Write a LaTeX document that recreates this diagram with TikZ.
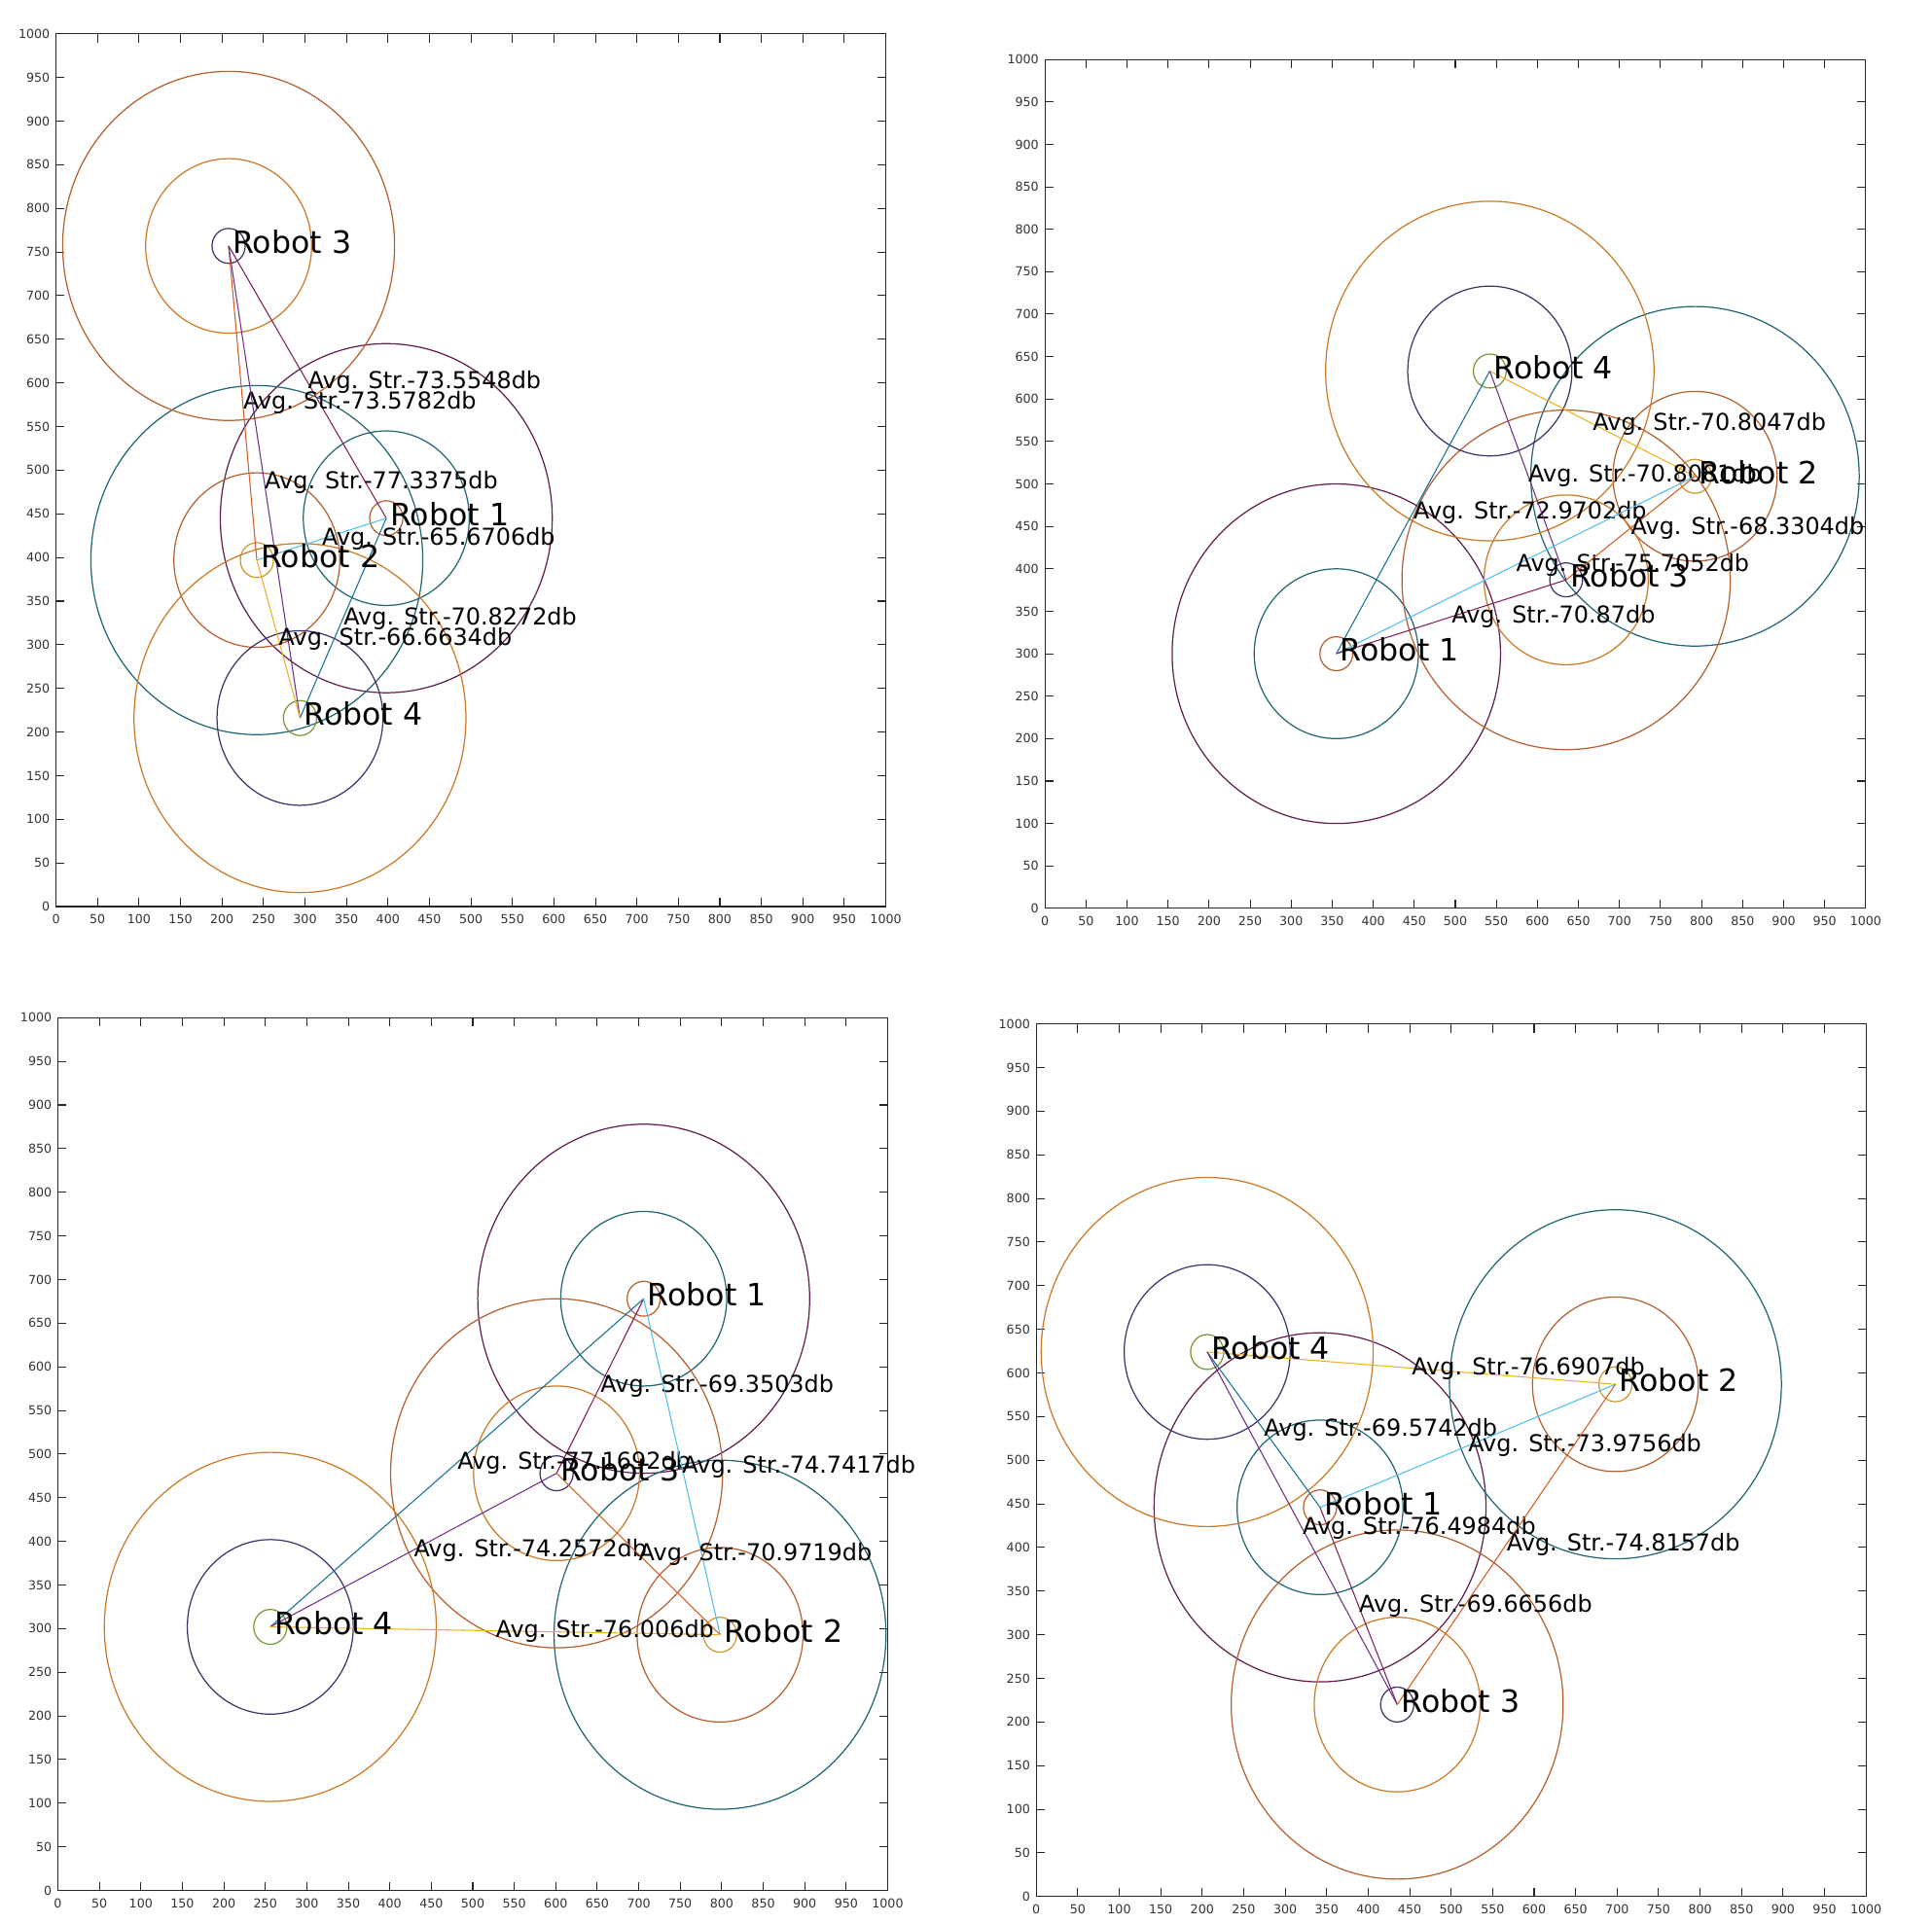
\documentclass[tikz,border=0pt]{standalone}
\usepackage{fontspec}
\setmainfont{DejaVu Sans}

\definecolor{cirBrown}{RGB}{182,96,48}
\definecolor{cirAmber}{RGB}{204,122,38}
\definecolor{cirGold}{RGB}{206,152,44}
\definecolor{cirTeal}{RGB}{34,102,118}
\definecolor{cirPlum}{RGB}{98,30,80}
\definecolor{cirNavy}{RGB}{66,50,106}
\definecolor{cirOlive}{RGB}{120,152,56}
\definecolor{lnSky}{RGB}{77,190,238}
\definecolor{lnWine}{RGB}{128,30,92}
\definecolor{lnTeal}{RGB}{22,112,150}
\definecolor{lnOrange}{RGB}{214,92,32}
\definecolor{lnGold}{RGB}{236,176,34}
\definecolor{lnViolet}{RGB}{112,46,132}

% axes box with ticks every 50
\newcommand{\plotframe}{%
  \draw[frame] (0,0) rectangle (1000,1000);
  \foreach \v in {0,50,...,1000}{
    \draw[frame] (\v,0) -- (\v,10) (\v,1000) -- (\v,990);
    \draw[frame] (0,\v) -- (10,\v) (1000,\v) -- (990,\v);
    \node[tick, below=2.2pt] at (\v,0) {\v};
    \node[tick, left=1.6pt] at (0,\v) {\v};
  }
}
% the three rings round one robot
\newcommand{\rings}[4]{%
  \draw[ring, #2] (#1) circle[radius=20];
  \draw[ring, #3] (#1) circle[radius=100];
  \draw[ring, #4] (#1) circle[radius=200];
}

\begin{document}
\begin{tikzpicture}[
    frame/.style={line width=0.3pt, black!85},
    tick/.style={font=\fontsize{3.6}{4}\selectfont, inner sep=0pt, text=black!80},
    ring/.style={line width=0.35pt},
    link/.style={line width=0.3pt},
    robotname/.style={anchor=west, inner sep=1pt, yshift=1.2pt, text=black, font=\fontsize{9}{10}\selectfont},
    strength/.style={anchor=west, inner sep=0pt, text=black, font=\fontsize{6.8}{8}\selectfont}
]
    \useasboundingbox (0,0) rectangle (19.86,19.76);

    % top left
    \begin{scope}[shift={(0.576,10.44)}, x=0.008525cm, y=0.008978cm]
        \plotframe
        \coordinate (A1) at (398,445);
        \coordinate (A2) at (242,397);
        \coordinate (A3) at (208,757);
        \coordinate (A4) at (294,216);
        \rings{A1}{cirBrown}{cirTeal}{cirPlum}
        \rings{A2}{cirGold}{cirBrown}{cirTeal}
        \rings{A3}{cirNavy}{cirAmber}{cirBrown}
        \rings{A4}{cirOlive}{cirNavy}{cirAmber}
        \draw[link, lnWine] (A3) -- (A1) node[strength, midway] {Avg. Str.-73.5548db};
        \draw[link, lnOrange] (A3) -- (A2) node[strength, midway] {Avg. Str.-73.5782db};
        \draw[link, lnViolet] (A3) -- (A4) node[strength, midway] {Avg. Str.-77.3375db};
        \draw[link, lnSky] (A1) -- (A2) node[strength, midway] {Avg. Str.-65.6706db};
        \draw[link, lnTeal] (A1) -- (A4) node[strength, midway] {Avg. Str.-70.8272db};
        \draw[link, lnGold] (A2) -- (A4) node[strength, midway] {Avg. Str.-66.6634db};
        \node[robotname] (A1t) at (A1) {Robot 1};
        \node[robotname] (A2t) at (A2) {Robot 2};
        \node[robotname] (A3t) at (A3) {Robot 3};
        \node[robotname] (A4t) at (A4) {Robot 4};
    \end{scope}

    % top right
    \begin{scope}[shift={(10.741,10.421)}, x=0.008442cm, y=0.008725cm]
        \plotframe
        \coordinate (B1) at (355,300);
        \coordinate (B2) at (792,509);
        \coordinate (B3) at (635,387);
        \coordinate (B4) at (542,633);
        \rings{B1}{cirBrown}{cirTeal}{cirPlum}
        \rings{B2}{cirGold}{cirBrown}{cirTeal}
        \rings{B3}{cirNavy}{cirAmber}{cirBrown}
        \rings{B4}{cirOlive}{cirNavy}{cirAmber}
        \draw[link, lnTeal] (B4) -- (B1) node[strength, midway] {Avg. Str.-72.9702db};
        \draw[link, lnGold] (B4) -- (B2) node[strength, midway] {Avg. Str.-70.8047db};
        \draw[link, lnViolet] (B4) -- (B3) node[strength, midway] {Avg. Str.-70.8081db};
        \draw[link, lnSky] (B1) -- (B2) node[strength, midway] {Avg. Str.-75.7052db};
        \draw[link, lnWine] (B1) -- (B3) node[strength, midway] {Avg. Str.-70.87db};
        \draw[link, lnOrange] (B3) -- (B2) node[strength, midway] {Avg. Str.-68.3304db};
        \node[robotname] (B1t) at (B1) {Robot 1};
        \node[robotname] (B2t) at (B2) {Robot 2};
        \node[robotname] (B3t) at (B3) {Robot 3};
        \node[robotname] (B4t) at (B4) {Robot 4};
    \end{scope}

    % bottom left
    \begin{scope}[shift={(0.595,0.325)}, x=0.008525cm, y=0.008972cm]
        \plotframe
        \coordinate (C1) at (706,678);
        \coordinate (C2) at (798,293);
        \coordinate (C3) at (601,478);
        \coordinate (C4) at (256,302);
        \rings{C1}{cirBrown}{cirTeal}{cirPlum}
        \rings{C2}{cirGold}{cirBrown}{cirTeal}
        \rings{C3}{cirNavy}{cirAmber}{cirBrown}
        \rings{C4}{cirOlive}{cirNavy}{cirAmber}
        \draw[link, lnWine] (C1) -- (C3) node[strength, midway] {Avg. Str.-69.3503db};
        \draw[link, lnTeal] (C1) -- (C4) node[strength, midway] {Avg. Str.-77.1692db};
        \draw[link, lnSky] (C1) -- (C2) node[strength, midway] {Avg. Str.-74.7417db};
        \draw[link, lnViolet] (C4) -- (C3) node[strength, midway] {Avg. Str.-74.2572db};
        \draw[link, lnOrange] (C3) -- (C2) node[strength, midway] {Avg. Str.-70.9719db};
        \draw[link, lnGold] (C4) -- (C2) node[strength, midway] {Avg. Str.-76.006db};
        \node[robotname] (C1t) at (C1) {Robot 1};
        \node[robotname] (C2t) at (C2) {Robot 2};
        \node[robotname] (C3t) at (C3) {Robot 3};
        \node[robotname] (C4t) at (C4) {Robot 4};
    \end{scope}

    % bottom right
    \begin{scope}[shift={(10.652,0.262)}, x=0.008531cm, y=0.008978cm]
        \plotframe
        \coordinate (D1) at (342,446);
        \coordinate (D2) at (698,587);
        \coordinate (D3) at (435,220);
        \coordinate (D4) at (206,624);
        \rings{D1}{cirBrown}{cirTeal}{cirPlum}
        \rings{D2}{cirGold}{cirBrown}{cirTeal}
        \rings{D3}{cirNavy}{cirAmber}{cirBrown}
        \rings{D4}{cirOlive}{cirNavy}{cirAmber}
        \draw[link, lnGold] (D4) -- (D2) node[strength, midway] {Avg. Str.-76.6907db};
        \draw[link, lnTeal] (D4) -- (D1) node[strength, midway] {Avg. Str.-69.5742db};
        \draw[link, lnSky] (D1) -- (D2) node[strength, midway] {Avg. Str.-73.9756db};
        \draw[link, lnWine] (D1) -- (D3) node[strength, midway] {Avg. Str.-69.6656db};
        \draw[link, lnViolet] (D4) -- (D3) node[strength, midway] {Avg. Str.-76.4984db};
        \draw[link, lnOrange] (D3) -- (D2) node[strength, midway] {Avg. Str.-74.8157db};
        \node[robotname] (D1t) at (D1) {Robot 1};
        \node[robotname] (D2t) at (D2) {Robot 2};
        \node[robotname] (D3t) at (D3) {Robot 3};
        \node[robotname] (D4t) at (D4) {Robot 4};
    \end{scope}
\end{tikzpicture}
\end{document}
